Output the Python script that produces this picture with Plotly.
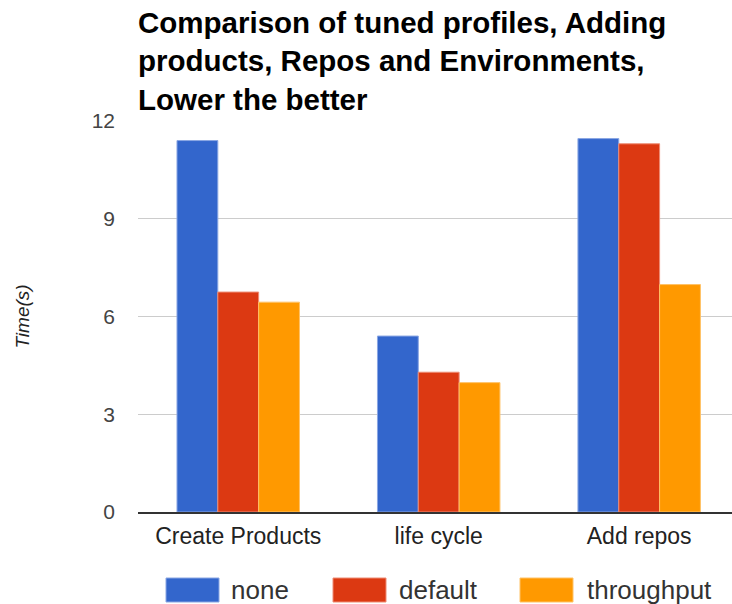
import plotly.graph_objects as go

# Benchmark data: time in seconds per operation and tuned profile
categories = ["Create Products", "life cycle", "Add repos"]
series_names = ["none", "default", "throughput"]
none_times = [11.4, 5.4, 11.46]
default_times = [6.75, 4.29, 11.3]
throughput_times = [6.44, 3.97, 6.98]
y_ticks = [0, 3, 6, 9, 12]

colors = ["#3366cc", "#dc3912", "#ff9900"]
edge_colors = ["#8aa6e3", "#ee8c74", "#ffc266"]
FONT = "Liberation Sans, Arial, sans-serif"

W, H = 732, 604
ML, MR, MT, MB = 138, 0, 121, 92

fig = go.Figure()
for name, vals, col, edge in zip(series_names,
                                 [none_times, default_times, throughput_times],
                                 colors, edge_colors):
    fig.add_trace(go.Bar(
        x=categories, y=vals, name=name,
        marker=dict(color=col, line=dict(color=edge, width=1)),
        showlegend=False,
    ))

fig.update_layout(
    width=W, height=H,
    margin=dict(l=ML, r=MR, t=MT, b=MB, autoexpand=False),
    paper_bgcolor="white", plot_bgcolor="white",
    barmode="group", bargap=0.389, bargroupgap=0.0,
    font=dict(family=FONT, color="#444444"),
    title=dict(
        text="<b>Comparison of tuned profiles, Adding<br>products, Repos and Environments,<br>Lower the better</b>",
        x=138 / W, xref="container", xanchor="left",
        y=1 - 33 / H, yref="container", yanchor="top",
        font=dict(family=FONT, size=29.5, color="#000000"),
    ),
)

fig.update_xaxes(
    range=[-0.5, 2.463],
    showgrid=False, showline=True, linecolor="#333333", linewidth=1.5,
    ticks="", tickfont=dict(size=23, color="#222222"),
    ticklabelstandoff=3,
)
fig.update_yaxes(
    range=[0, 12], tickvals=y_ticks,
    showgrid=True, gridcolor="#cccccc", gridwidth=1,
    zeroline=False, showline=False, ticks="",
    tickfont=dict(size=21, color="#444444"),
    ticklabelstandoff=22,
    title=dict(text="<i>Time(s)</i>", standoff=56,
               font=dict(size=19, color="#222222")),
)

# Legend row below the axis: colour swatch followed by the series name
plot_w = W - ML - MR
plot_h = H - MT - MB
swatch_x = [166, 333, 520]
text_x = [229, 397, 585]
sw_w, sw_h, leg_y = 53, 24, 590


def px_to_paper_x(px):
    return (px - ML) / plot_w


def px_to_paper_y(py):
    return (H - MB - py) / plot_h


for name, col, edge, sx, tx in zip(series_names, colors, edge_colors, swatch_x, text_x):
    fig.add_shape(
        type="rect", xref="paper", yref="paper",
        x0=px_to_paper_x(sx), x1=px_to_paper_x(sx + sw_w),
        y0=px_to_paper_y(leg_y + sw_h / 2), y1=px_to_paper_y(leg_y - sw_h / 2),
        fillcolor=col, line=dict(color=edge, width=1),
    )
    fig.add_annotation(
        text=name, xref="paper", yref="paper",
        x=px_to_paper_x(tx), y=px_to_paper_y(leg_y),
        xanchor="left", yanchor="middle", showarrow=False,
        font=dict(family=FONT, size=26, color="#333333"),
    )

fig.write_html("out.html")
